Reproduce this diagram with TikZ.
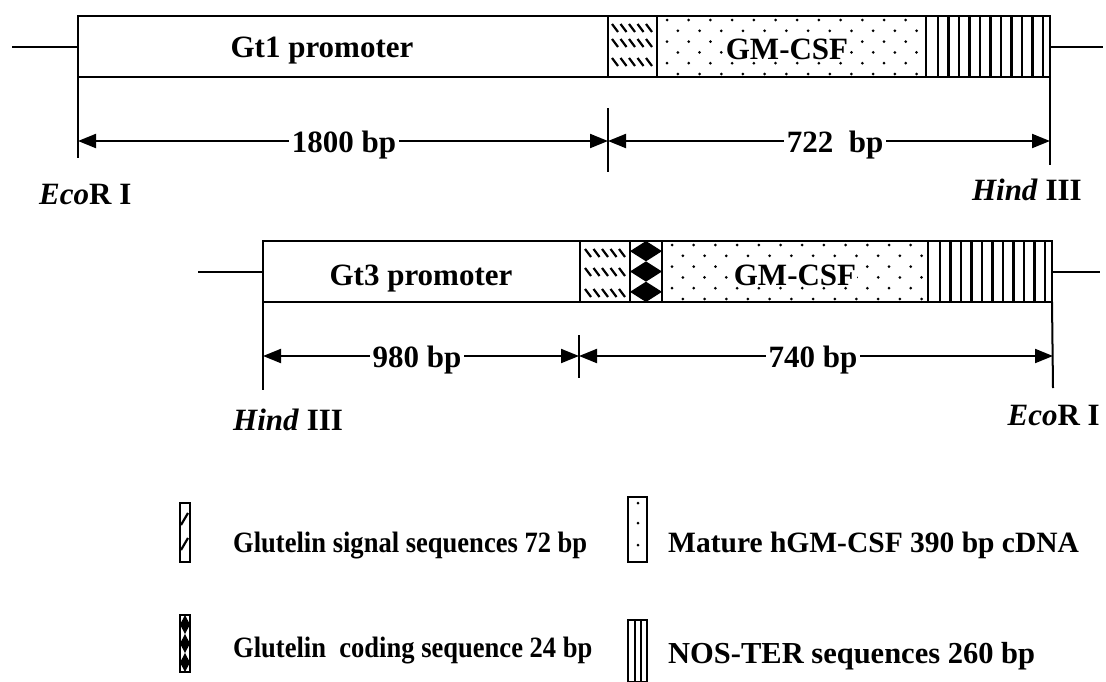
\documentclass[tikz,border=0pt]{standalone}
\usepackage{fontspec}
\setmainfont{Liberation Serif}
\usetikzlibrary{arrows.meta}
\tikzset{
  seg/.style={draw, line width=2.6pt, minimum height=61pt, inner sep=0pt, outer sep=0pt, anchor=north west},
  lbl/.style={font=\fontsize{31}{37}\selectfont\bfseries, inner sep=0pt, anchor=base},
  leg/.style={font=\fontsize{29.5}{35}\selectfont\bfseries, inner sep=0pt, anchor=base west},
  legnarrow/.style={leg, xscale=0.9, transform shape},
  lead/.style={line width=2pt},
  tickline/.style={line width=2pt},
  dim/.style={line width=2pt, {Triangle[length=18pt,width=14pt]}-{Triangle[length=18pt,width=14pt]}},
  dimlbl/.style={lbl, fill=white, inner xsep=3pt, inner ysep=2pt},
  hatchline/.style={line width=2.2pt},
  vbar/.style={line width=2.8pt},
  legbox/.style={draw, line width=2pt, inner sep=0pt, outer sep=0pt, anchor=north west},
}
\begin{document}
\begin{tikzpicture}[x=1pt,y=-1pt]
\useasboundingbox (0,0) rectangle (1106,681);

% ---------------- Row 1 patterns ----------------
\foreach \yc in {28,43,62}{
  \foreach \k in {0,...,4}{
    \draw[hatchline] ({612+\k*8.5},{\yc-4}) -- ({618+\k*8.5},{\yc+4});
  }
}
\begin{scope}
  \clip (657,16) rectangle (926,77);
  \foreach \r in {0,...,5}{
    \foreach \c in {0,...,13}{
      \fill ({657+10+\c*21.7+mod(\r,2)*10.85},{20+\r*10.8}) circle (1.5);
    }
  }
\end{scope}
\foreach \k in {0,...,10}{
  \draw[vbar] ({938+\k*10.5},16) -- ({938+\k*10.5},77);
}

% ---------------- Row 1 segments ----------------
\node[seg, minimum width=530pt] (p1) at (78,16) {};
\node[seg, minimum width=49pt]  (s1) at (608,16) {};
\node[seg, minimum width=269pt] (g1) at (657,16) {};
\node[seg, minimum width=124pt] (n1) at (926,16) {};
\node[lbl] (p1t) at (322,57.5) {Gt1 promoter};
\node[lbl, fill=white, inner sep=1pt] (g1t) at (787,59) {GM-CSF};

\coordinate (l1) at (12,46.5);
\coordinate (r1) at (1103,46.5);
\draw[lead] (l1) -- (l1 -| p1.west);
\draw[lead] (n1.east) -- (r1);

\coordinate (a1) at (78,141);
\coordinate (b1) at (608,141);
\coordinate (c1) at (1050,141);
\draw[tickline] (p1.south west) -- (78,158);
\draw[tickline] (608,108) -- (608,172);
\draw[tickline] (n1.south east) -- (1050,165);
\draw[dim] (a1) -- (b1);
\draw[dim] (b1) -- (c1);
\node[dimlbl] (d1) at (344,152) {1800 bp};
\node[dimlbl] (d2) at (835,152) {722\ \ bp};

\node[lbl, anchor=base west] (e1) at (39,204) {\textit{Eco}R I};
\node[lbl, anchor=base east] (h1) at (1082,200) {\textit{Hind} III};

% ---------------- Row 2 patterns ----------------
\foreach \yc in {253,272,293}{
  \foreach \k in {0,...,4}{
    \draw[hatchline] ({585+\k*8.5},{\yc-4}) -- ({591+\k*8.5},{\yc+4});
  }
}
\foreach \k in {0,1,2}{
  \fill ({630},{241+10.17+\k*20.33}) -- ({646},{241+\k*20.33}) -- ({662},{241+10.17+\k*20.33}) -- ({646},{241+20.33+\k*20.33}) -- cycle;
}
\begin{scope}
  \clip (662,241) rectangle (928,302);
  \foreach \r in {0,...,5}{
    \foreach \c in {0,...,13}{
      \fill ({662+10+\c*21.7+mod(\r,2)*10.85},{245+\r*10.8}) circle (1.5);
    }
  }
\end{scope}
\foreach \k in {0,...,10}{
  \draw[vbar] ({940+\k*10.5},241) -- ({940+\k*10.5},302);
}

% ---------------- Row 2 segments ----------------
\node[seg, minimum width=317pt] (p2) at (263,241) {};
\node[seg, minimum width=50pt]  (s2) at (580,241) {};
\node[seg, minimum width=32pt]  (c2) at (630,241) {};
\node[seg, minimum width=266pt] (g2) at (662,241) {};
\node[seg, minimum width=124pt] (n2) at (928,241) {};
\node[lbl] (p2t) at (421,285) {Gt3 promoter};
\node[lbl, fill=white, inner sep=1pt] (g2t) at (795,285) {GM-CSF};

\coordinate (l2) at (198,271.5);
\coordinate (r2) at (1100,271.5);
\draw[lead] (l2) -- (l2 -| p2.west);
\draw[lead] (n2.east) -- (r2);

\coordinate (a2) at (263,356);
\coordinate (b2) at (579,356);
\coordinate (c2d) at (1053,356);
\draw[tickline] (p2.south west) -- (263,390);
\draw[tickline] (579,335) -- (579,378);
\draw[tickline] (n2.south east) -- (1053,388);
\draw[dim] (a2) -- (b2);
\draw[dim] (b2) -- (c2d);
\node[dimlbl] (d3) at (417,367) {980 bp};
\node[dimlbl] (d4) at (813,367) {740 bp};

\node[lbl, anchor=base west] (h2) at (233,430) {\textit{Hind} III};
\node[lbl, anchor=base east] (e2) at (1100,425) {\textit{Eco}R I};

% ---------------- Legend ----------------
\node[legbox, minimum width=10pt, minimum height=59pt] (k1) at (180,503) {};
\draw[hatchline] (181,525) -- (188,513);
\draw[hatchline] (181,550) -- (188,538);
\node[legnarrow] (t1) at (233,552) {Glutelin signal sequences 72 bp};

\foreach \k in {0,1,2}{
  \fill (180,{615+9.5+\k*19}) -- (185,{615+\k*19}) -- (190,{615+9.5+\k*19}) -- (185,{615+19+\k*19}) -- cycle;
}
\node[legbox, minimum width=10pt, minimum height=57pt] (k2) at (180,615) {};
\node[legnarrow] (t2) at (233,657) {Glutelin\ \ coding sequence 24 bp};

\node[legbox, minimum width=19pt, minimum height=65pt] (k3) at (628,497) {};
\foreach \yy in {503,523,545}{ \fill (638,\yy) circle (1.5); }
\node[leg] (t3) at (668,552) {Mature hGM-CSF 390 bp cDNA};

\node[legbox, minimum width=19pt, minimum height=62pt] (k4) at (628,620) {};
\draw[line width=2pt] (635,620) -- (635,682);
\draw[line width=2pt] (641,620) -- (641,682);
\node[leg, font=\fontsize{30.5}{36}\selectfont\bfseries] (t4) at (668,663) {NOS-TER sequences 260 bp};
\end{tikzpicture}
\end{document}
